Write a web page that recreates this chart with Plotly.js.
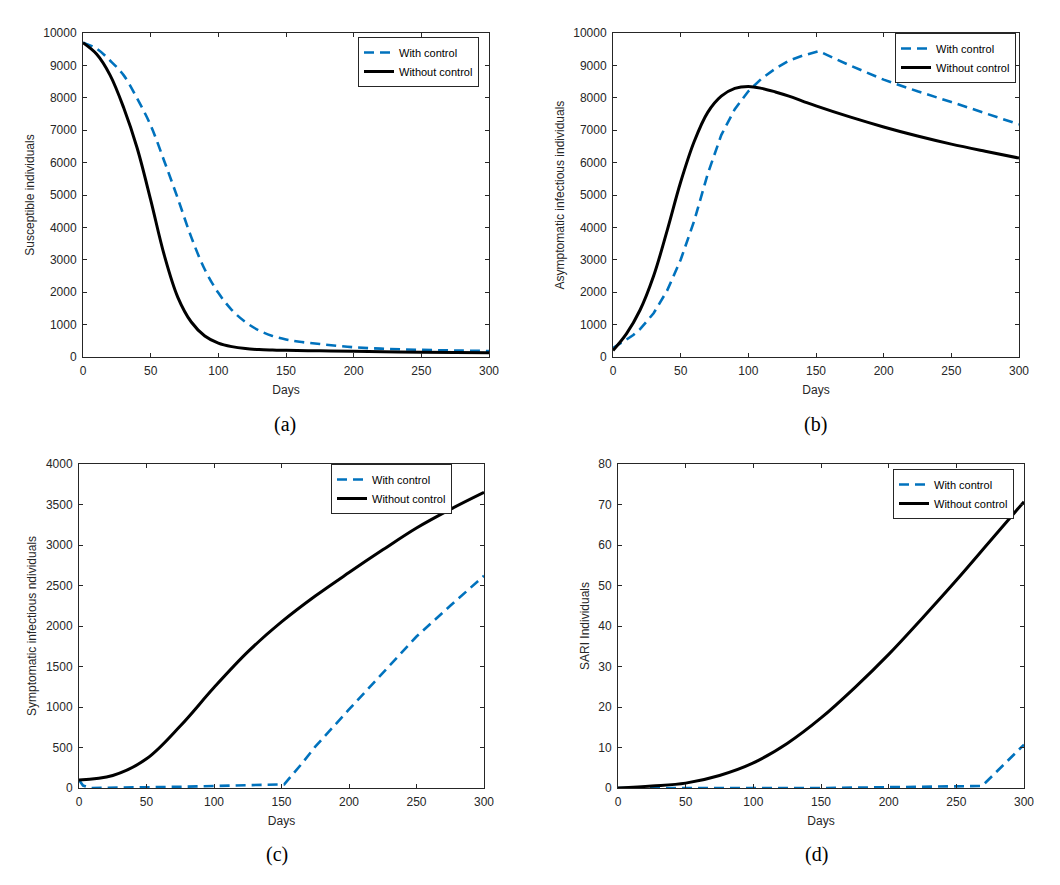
<!DOCTYPE html>
<html>
<head>
<meta charset="utf-8">
<script src="https://cdn.plot.ly/plotly-3.0.1.min.js"></script>
<style>html,body{margin:0;padding:0;background:#fff;}#chart{width:1060px;height:885px;}</style>
</head>
<body>
<div id="chart"></div>
<script>
// ---- Data ----
// (a) Susceptible individuals
const daysA_ctrl = [0,10,20,30,40,50,60,70,80,90,100,110,120,130,140,150,160,175,200,225,250,275,300];
const susCtrl    = [9700,9520,9150,8700,7980,7150,6050,4900,3700,2700,1980,1450,1080,820,650,540,470,400,300,250,220,200,185];
const daysA_no   = [0,10,20,30,40,50,60,70,80,90,100,110,120,130,140,150,175,200,250,300];
const susNo      = [9700,9350,8700,7700,6450,4850,3150,1850,1080,650,430,320,260,230,215,205,190,175,150,130];

// (b) Asymptomatic infectious individuals
const daysB_ctrl = [0,5,10,15,20,30,40,50,60,70,80,90,100,110,120,130,140,152,175,200,225,250,275,300];
const asymCtrl   = [280,400,540,680,860,1350,2050,3000,4200,5650,6850,7650,8200,8600,8900,9150,9300,9440,9000,8560,8200,7870,7520,7180];
const daysB_no   = [0,10,20,30,40,50,60,70,80,90,100,110,120,130,140,150,175,200,225,250,275,300];
const asymNo     = [200,720,1450,2500,3900,5400,6650,7550,8050,8290,8350,8290,8180,8050,7900,7750,7410,7100,6820,6570,6350,6140];

// (c) Symptomatic infectious individuals
const daysC_ctrl = [0,3,8,30,50,75,100,125,152,165,175,200,225,250,275,300];
const symCtrl    = [100,30,0,3,8,15,25,35,45,300,510,970,1420,1870,2250,2620];
const daysC_no   = [0,25,50,75,100,125,150,175,200,225,250,275,300];
const symNo      = [100,155,360,765,1240,1680,2050,2370,2660,2940,3210,3440,3650];

// (d) SARI individuals
const daysD_ctrl = [0,50,100,150,200,250,269,300];
const sariCtrl   = [0,0,0,0,0.2,0.4,0.5,10.7];
const daysD_no   = [0,25,50,75,100,125,150,175,200,225,250,275,300];
const sariNo     = [0,0.5,1.2,3.1,6.2,11.0,17.3,24.8,33.0,42.0,51.3,61.0,70.7];

const seriesNames = ["With control", "Without control"];
const xTicks = [0,50,100,150,200,250,300];
const yTitles = ["Susceptible individuals", "Asymptomatic infectious individuals",
                 "Symptomatic infectious ndividuals", "SARI Individuals"];
const captions = ["(a)", "(b)", "(c)", "(d)"];

// ---- Styling ----
const BLUE = "#0072BD";
const AX = "#262626";
const FONT = "Liberation Sans, Arial, Helvetica, sans-serif";

function ctrlTrace(x, y, n, shape) {
  return {x: x, y: y, type: "scatter", mode: "lines", name: seriesNames[0],
    line: {color: BLUE, width: 2.6, dash: "10px,6px", shape: shape},
    xaxis: n === 1 ? "x" : "x" + n, yaxis: n === 1 ? "y" : "y" + n,
    legend: n === 1 ? "legend" : "legend" + n};
}
function noTrace(x, y, n) {
  return {x: x, y: y, type: "scatter", mode: "lines", name: seriesNames[1],
    line: {color: "#000000", width: 3, shape: "spline", smoothing: 1},
    xaxis: n === 1 ? "x" : "x" + n, yaxis: n === 1 ? "y" : "y" + n,
    legend: n === 1 ? "legend" : "legend" + n};
}

const data = [
  ctrlTrace(daysA_ctrl, susCtrl, 1, "spline"), noTrace(daysA_no, susNo, 1),
  ctrlTrace(daysB_ctrl, asymCtrl, 2, "linear"), noTrace(daysB_no, asymNo, 2),
  ctrlTrace(daysC_ctrl, symCtrl, 3, "linear"), noTrace(daysC_no, symNo, 3),
  ctrlTrace(daysD_ctrl, sariCtrl, 4, "linear"), noTrace(daysD_no, sariNo, 4)
];

const W = 1060, H = 885;
// plot-area pixel boxes [left, right, top, bottom]
const boxes = [[83,489,33,357],[613,1019,33,357],[79,484,464,788],[618,1024,464,788]];
const yRanges = [[0,10000],[0,10000],[0,4000],[0,80]];
const yDtick = [1000,1000,500,10];
const legendPos = [[479,37],[1016,33],[452,464],[1014,469]];
const capPos = [[285,424],[815,424],[277,854],[816,854]];

function xAxis(b, anchor) {
  return {domain: [b[0]/W, b[1]/W], anchor: anchor, range: [0,300],
    tickvals: xTicks, ticks: "inside", ticklen: 4, tickcolor: AX, tickwidth: 1,
    showline: true, linecolor: AX, linewidth: 1, mirror: "ticks",
    showgrid: false, zeroline: false, ticklabelstandoff: 3,
    tickfont: {family: FONT, size: 12, color: AX},
    title: {text: "Days", font: {family: FONT, size: 12, color: AX}, standoff: 8}};
}
function yAxis(b, anchor, i) {
  return {domain: [1 - b[3]/H, 1 - b[2]/H], anchor: anchor, range: yRanges[i],
    dtick: yDtick[i], tick0: 0, tickformat: "d", ticks: "inside", ticklen: 4, tickcolor: AX, tickwidth: 1,
    showline: true, linecolor: AX, linewidth: 1, mirror: "ticks",
    showgrid: false, zeroline: false, ticklabelstandoff: 3,
    tickfont: {family: FONT, size: 12, color: AX},
    title: {text: yTitles[i], font: {family: FONT, size: 12, color: AX}, standoff: 6}};
}

const layout = {
  width: W, height: H, margin: {l:0, r:0, t:0, b:0},
  paper_bgcolor: "#fff", plot_bgcolor: "#fff",
  font: {family: FONT, color: AX},
  annotations: []
};
for (let i = 0; i < 4; i++) {
  const n = i + 1;
  const xk = n === 1 ? "xaxis" : "xaxis" + n;
  const yk = n === 1 ? "yaxis" : "yaxis" + n;
  layout[xk] = xAxis(boxes[i], n === 1 ? "y" : "y" + n);
  layout[yk] = yAxis(boxes[i], n === 1 ? "x" : "x" + n, i);
  const lk = n === 1 ? "legend" : "legend" + n;
  layout[lk] = {x: legendPos[i][0]/W, y: 1 - legendPos[i][1]/H, xanchor: "right", yanchor: "top",
    bgcolor: "#fff", bordercolor: AX, borderwidth: 1, itemwidth: 30,
    font: {family: FONT, size: 11, color: "#000"}, tracegroupgap: 0};
  layout.annotations.push({text: captions[i], xref: "paper", yref: "paper",
    x: capPos[i][0]/W, y: 1 - capPos[i][1]/H, xanchor: "center", yanchor: "middle",
    showarrow: false, font: {family: "Liberation Serif, Times New Roman, serif", size: 20, color: "#000"}});
}

Plotly.newPlot("chart", data, layout, {displayModeBar: false, staticPlot: true});
</script>
</body>
</html>
